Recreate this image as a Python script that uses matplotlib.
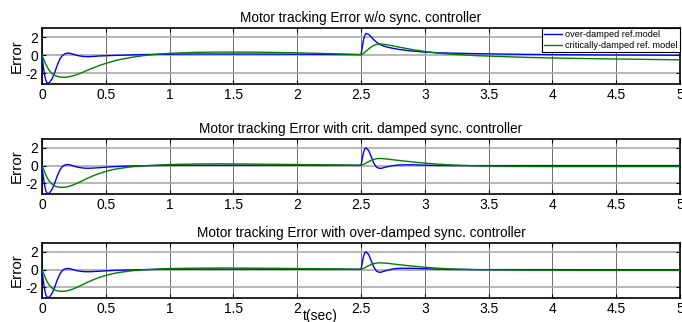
import matplotlib
matplotlib.use("Agg")
import matplotlib.pyplot as plt

plt.rcParams['font.family'] = ['Liberation Sans', 'DejaVu Sans']

titles = ["Motor tracking Error w/o sync. controller",
          "Motor tracking Error with crit. damped sync. controller",
          "Motor tracking Error with over-damped sync. controller"]
legend_labels = ["over-damped ref.model", "critically-damped ref. model"]
xticks = [0, 0.5, 1, 1.5, 2, 2.5, 3, 3.5, 4, 4.5, 5]
xtick_labels = ["0", "0.5", "1", "1.5", "2", "2.5", "3", "3.5", "4", "4.5", "5"]
yticks = [-2, 0, 2]

# time samples (s)
t = [0.0, 0.01, 0.02, 0.03, 0.04, 0.05, 0.06, 0.08, 0.10, 0.12, 0.14, 0.16, 0.18,
     0.20, 0.22, 0.25, 0.28, 0.32, 0.36, 0.40, 0.45, 0.50, 0.55, 0.60, 0.70, 0.80,
     0.90, 1.00, 1.20, 1.40, 1.60, 1.80, 2.00, 2.20, 2.40, 2.50, 2.51, 2.52, 2.53,
     2.54, 2.56, 2.58, 2.60, 2.62, 2.64, 2.66, 2.70, 2.75, 2.80, 2.90, 3.00, 3.10,
     3.20, 3.40, 3.60, 3.80, 4.00, 4.25, 4.50, 4.75, 5.00]

# Row 1: without sync controller
blue1 = [0.0, -1.2, -2.2, -2.8, -3.05, -3.1, -3.0, -2.6, -1.9, -1.1, -0.45, -0.05, 0.15,
         0.22, 0.2, 0.08, -0.05, -0.15, -0.18, -0.15, -0.1, -0.07, -0.04, -0.02, 0.02, 0.06,
         0.08, 0.1, 0.12, 0.12, 0.12, 0.11, 0.1, 0.08, 0.06, 0.05, 0.9, 1.7, 2.2,
         2.4, 2.3, 2.0, 1.7, 1.45, 1.25, 1.1, 0.9, 0.75, 0.62, 0.45, 0.33, 0.26,
         0.22, 0.16, 0.12, 0.08, 0.05, 0.03, 0.01, 0.0, -0.02]
green1 = [0.0, -0.35, -0.7, -1.0, -1.3, -1.55, -1.75, -2.05, -2.25, -2.36, -2.42, -2.45, -2.45,
          -2.42, -2.37, -2.27, -2.12, -1.9, -1.65, -1.42, -1.15, -0.92, -0.7, -0.52, -0.25, -0.05,
          0.1, 0.2, 0.3, 0.34, 0.33, 0.3, 0.25, 0.18, 0.1, 0.05, 0.1, 0.2, 0.32,
          0.45, 0.68, 0.9, 1.07, 1.18, 1.22, 1.22, 1.15, 1.02, 0.88, 0.62, 0.4, 0.22,
          0.1, -0.06, -0.16, -0.25, -0.32, -0.38, -0.43, -0.48, -0.52]

# Row 2: with critically damped sync controller
blue2 = [0.0, -1.2, -2.2, -2.85, -3.1, -3.15, -3.05, -2.65, -1.95, -1.15, -0.5, -0.1, 0.08,
         0.12, 0.08, -0.05, -0.18, -0.27, -0.3, -0.28, -0.23, -0.18, -0.13, -0.09, -0.04, -0.01,
         0.01, 0.03, 0.04, 0.04, 0.04, 0.04, 0.04, 0.03, 0.03, 0.02, 0.8, 1.5, 1.9,
         2.0, 1.7, 1.0, 0.3, -0.15, -0.3, -0.3, -0.15, 0.0, 0.08, 0.1, 0.05, 0.02,
         0.0, 0.0, 0.0, 0.0, 0.0, 0.0, 0.0, 0.0, 0.0]
green2 = [0.0, -0.35, -0.7, -1.05, -1.35, -1.6, -1.8, -2.1, -2.3, -2.4, -2.44, -2.45, -2.43,
          -2.38, -2.3, -2.15, -1.95, -1.68, -1.4, -1.15, -0.88, -0.65, -0.47, -0.33, -0.14, -0.02,
          0.06, 0.12, 0.18, 0.2, 0.18, 0.15, 0.12, 0.09, 0.06, 0.05, 0.08, 0.14, 0.22,
          0.3, 0.45, 0.6, 0.7, 0.78, 0.8, 0.8, 0.75, 0.66, 0.58, 0.42, 0.28, 0.17,
          0.08, -0.03, -0.08, -0.1, -0.11, -0.11, -0.11, -0.11, -0.11]

# Row 3: with over-damped sync controller
blue3 = [0.0, -1.2, -2.2, -2.85, -3.1, -3.15, -3.05, -2.65, -1.95, -1.15, -0.5, -0.1, 0.08,
         0.13, 0.1, -0.02, -0.14, -0.22, -0.24, -0.22, -0.18, -0.14, -0.1, -0.07, -0.03, 0.0,
         0.02, 0.04, 0.05, 0.05, 0.05, 0.04, 0.04, 0.03, 0.03, 0.02, 0.8, 1.5, 1.9,
         2.0, 1.7, 1.0, 0.3, -0.15, -0.3, -0.28, -0.1, 0.08, 0.15, 0.15, 0.1, 0.05,
         0.02, 0.0, 0.0, 0.0, 0.0, -0.01, -0.01, -0.01, -0.01]
green3 = [0.0, -0.35, -0.7, -1.05, -1.35, -1.6, -1.8, -2.1, -2.3, -2.4, -2.44, -2.45, -2.43,
          -2.38, -2.3, -2.15, -1.95, -1.68, -1.4, -1.15, -0.88, -0.65, -0.47, -0.33, -0.14, -0.02,
          0.06, 0.12, 0.16, 0.18, 0.17, 0.15, 0.12, 0.09, 0.06, 0.05, 0.08, 0.14, 0.22,
          0.3, 0.45, 0.58, 0.67, 0.73, 0.76, 0.76, 0.72, 0.64, 0.55, 0.4, 0.27, 0.16,
          0.08, 0.0, -0.04, -0.06, -0.07, -0.08, -0.08, -0.08, -0.08]

blue_series = [blue1, blue2, blue3]
green_series = [green1, green2, green3]

W, H = 682, 322
fig = plt.figure(figsize=(W / 100, H / 100), dpi=100)

rows = [(28, 84), (139, 194), (243, 298)]
left_px, right_px = 42, 680

for i, (top, bot) in enumerate(rows):
    ax = fig.add_axes([left_px / W, 1 - bot / H, (right_px - left_px) / W, (bot - top) / H])
    ax.plot(t, blue_series[i], color='#0000ff', lw=1.0, label=legend_labels[0], zorder=3)
    ax.plot(t, green_series[i], color='#008000', lw=1.0, label=legend_labels[1], zorder=3)
    ax.set_xlim(0, 5)
    ax.set_ylim(-3.2, 3)
    ax.set_xticks(xticks)
    ax.set_xticklabels(xtick_labels)
    ax.set_yticks(yticks)
    ax.set_yticklabels([str(v) for v in yticks])
    ax.xaxis.grid(True, color='#555555', lw=0.6, ls='-')
    ax.yaxis.grid(True, color='#aaaaaa', lw=1.2, ls='-')
    ax.set_axisbelow(True)
    ax.tick_params(direction='in', length=3, width=0.8, top=True, right=True,
                   labelsize=10, pad=3, colors='black')
    for s in ax.spines.values():
        s.set_linewidth(1.2)
        s.set_color('black')
    ax.set_title(titles[i], fontsize=9.8, pad=4)
    ax.set_ylabel("Error", fontsize=11, labelpad=1)
    if i == 0:
        leg = ax.legend(loc='upper right', fontsize=6.6, frameon=True, fancybox=False,
                        borderaxespad=0.0, handlelength=2.0, handletextpad=0.3,
                        borderpad=0.25, labelspacing=0.2)
        leg.get_frame().set_edgecolor('black')
        leg.get_frame().set_linewidth(0.8)
        leg.get_frame().set_alpha(1.0)

fig.text(320 / W, 1 - 316 / H, "t(sec)", fontsize=10, ha='center', va='center')

fig.savefig("out.png", dpi=100)
